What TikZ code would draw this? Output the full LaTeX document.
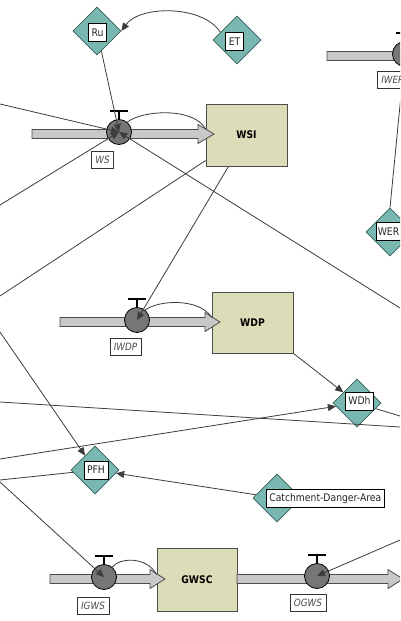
\documentclass[tikz,border=0pt]{standalone}
\usepackage{fontspec}
\setmainfont{DejaVu Sans}[FakeStretch=0.88]
\usetikzlibrary{shapes.geometric,arrows.meta}
\definecolor{auxfill}{RGB}{120,184,176}
\definecolor{auxdraw}{RGB}{55,95,90}
\definecolor{stockfill}{RGB}{220,220,184}
\definecolor{pipefill}{RGB}{200,200,200}
\definecolor{valvefill}{RGB}{118,118,118}
\definecolor{linec}{RGB}{60,60,60}
\newcommand\flowpipe[4]{% x0, xbase, xtip, ycenter
  \filldraw[pipe] (#1,#4-4.5) -- (#2,#4-4.5) -- (#2,#4-9.5) -- (#3,#4) -- (#2,#4+9.5) -- (#2,#4+4.5) -- (#1,#4+4.5) -- cycle;}
\newcommand\valvehandle[1]{%
  \draw[black, line width=1.2pt] ([yshift=12pt]#1.center) -- ([yshift=21pt]#1.center);
  \draw[black, line width=2.6pt] ([xshift=-9pt,yshift=21pt]#1.center) -- ([xshift=9pt,yshift=21pt]#1.center);}
\tikzset{
  aux/.style={diamond, draw=auxdraw, fill=auxfill, line width=0.8pt, minimum width=48, minimum height=48, inner sep=0pt},
  lbl/.style={draw=black, fill=white, line width=0.6pt, inner xsep=3pt, inner ysep=2pt, minimum height=18, text=black!85, font=\fontsize{10.5}{12}\selectfont},
  vlbl/.style={draw=black!80, fill=white, line width=0.6pt, inner xsep=4pt, inner ysep=2pt, minimum height=17, text=black!70, font=\fontsize{10}{12}\selectfont\itshape},
  stock/.style={draw=black!70, fill=stockfill, line width=0.8pt, font=\fontsize{10.5}{12}\selectfont\bfseries},
  valve/.style={circle, draw=black, fill=valvefill, line width=0.8pt, minimum size=25, inner sep=0pt},
  link/.style={draw=linec, line width=0.8pt},
  arr/.style={-{Triangle[length=8pt,width=7pt]}},
  pipe/.style={draw=black!70, fill=pipefill, line width=0.8pt},
}
\begin{document}
\begin{tikzpicture}[x=1pt,y=-1pt]
\useasboundingbox (0,0) rectangle (400,621);
\clip (0,0) rectangle (400,621);
\fill[white] (0,0) rectangle (400,621);

% stocks
\node[stock, minimum width=81, minimum height=62] (wsi) at (246.5,135) {WSI};
\node[stock, minimum width=81, minimum height=61] (wdp) at (252.5,322.5) {WDP};
\node[stock, minimum width=80, minimum height=63] (gwsc) at (197,579.5) {GWSC};

% pipes
\flowpipe{32}{198}{214}{134}
\flowpipe{60}{205}{220}{322}
\flowpipe{50}{150}{165}{579}
\flowpipe{237}{388}{403}{579}
\flowpipe{327}{430}{440}{56}

% valves
\node[valve] (ws) at (119,132) {};
\node[valve] (iwdp) at (137,320) {};
\node[valve] (igws) at (104,577) {};
\node[valve] (ogws) at (317,576) {};
\node[valve] (iwer) at (405,54) {};
\valvehandle{ws}
\valvehandle{iwdp}
\valvehandle{igws}
\valvehandle{ogws}
\valvehandle{iwer}

% auxiliaries
\node[aux] (ru) at (97,31) {};
\node[aux] (et) at (237,40) {};
\node[aux] (wer) at (390,232) {};
\node[aux] (wdh) at (357,403) {};
\node[aux] (pfh) at (95,470) {};
\node[aux] (cda) at (277,498) {};

% free ends
\coordinate (l1) at (0,104);
\coordinate (l2) at (0,205);
\coordinate (r1) at (400,308);
\coordinate (l3) at (0,296);
\coordinate (l4) at (0,459);
\coordinate (l5) at (0,402);
\coordinate (r2) at (400,427);
\coordinate (r3) at (400,416);
\coordinate (l6) at (0,332);
\coordinate (l7) at (0,480);
\coordinate (l8) at (0,482);
\coordinate (r4) at (400,540);

% flow arcs
\draw[link] (ws.50) .. controls +(15,-12) and +(-12,-22) .. ([yshift=6pt]wsi.west);
\draw[link] (iwdp.50) .. controls +(12,-10) and +(-12,-20) .. ([yshift=5pt]wdp.west);
\draw[link] (igws.50) .. controls +(8,-10) and +(-10,-18) .. ([yshift=5pt]gwsc.west);

% links
\draw[link, arr] (et.155) .. controls (203,5) and (140,5) .. (ru.east);
\draw[link, arr] (ru) -- (ws.center);
\draw[link, arr] (l1) -- (ws.center);
\draw[link, arr] (l2) -- (ws.center);
\draw[link, arr] (r1) -- (ws.center);
\draw[link] (wsi.212) -- (l3);
\draw[link, arr] ([xshift=-18pt]wsi.south) -- (iwdp.center);
\draw[link, arr] (wdp.south east) -- (wdh);
\draw[link, arr] (l4) -- (wdh);
\draw[link] (l5) -- (r2);
\draw[link] (wdh) -- (r3);
\draw[link, arr] (l6) -- (pfh);
\draw[link] (pfh) -- (l7);
\draw[link, arr] (cda) -- (pfh);
\draw[link, arr] (l8) -- (igws.center);
\draw[link, arr] (r4) -- (ogws.center);
\draw[link, arr] (wer.north) -- (iwer.center);

% labels
\node[lbl] (rul) at (97.5,32.5) {Ru};
\node[lbl] (etl) at (234.5,41.5) {ET};
\node[lbl, anchor=west, inner xsep=2pt] (werl) at (375.5,231.5) {WER};
\node[lbl] (wdhl) at (359.5,401) {WDh};
\node[lbl] (pfhl) at (96,470) {PFH};
\node[lbl, anchor=west] (cdal) at (266,498.5) {Catchment-Danger-Area};
\node[vlbl] (wsl) at (102.5,160) {WS};
\node[vlbl] (iwdpl) at (125.5,346.5) {IWDP};
\node[vlbl] (igwsl) at (93,605.5) {IGWS};
\node[vlbl] (ogwsl) at (308,602.5) {OGWS};
\node[vlbl, anchor=west] (iwerl) at (377,79.5) {IWER};
\end{tikzpicture}
\end{document}
